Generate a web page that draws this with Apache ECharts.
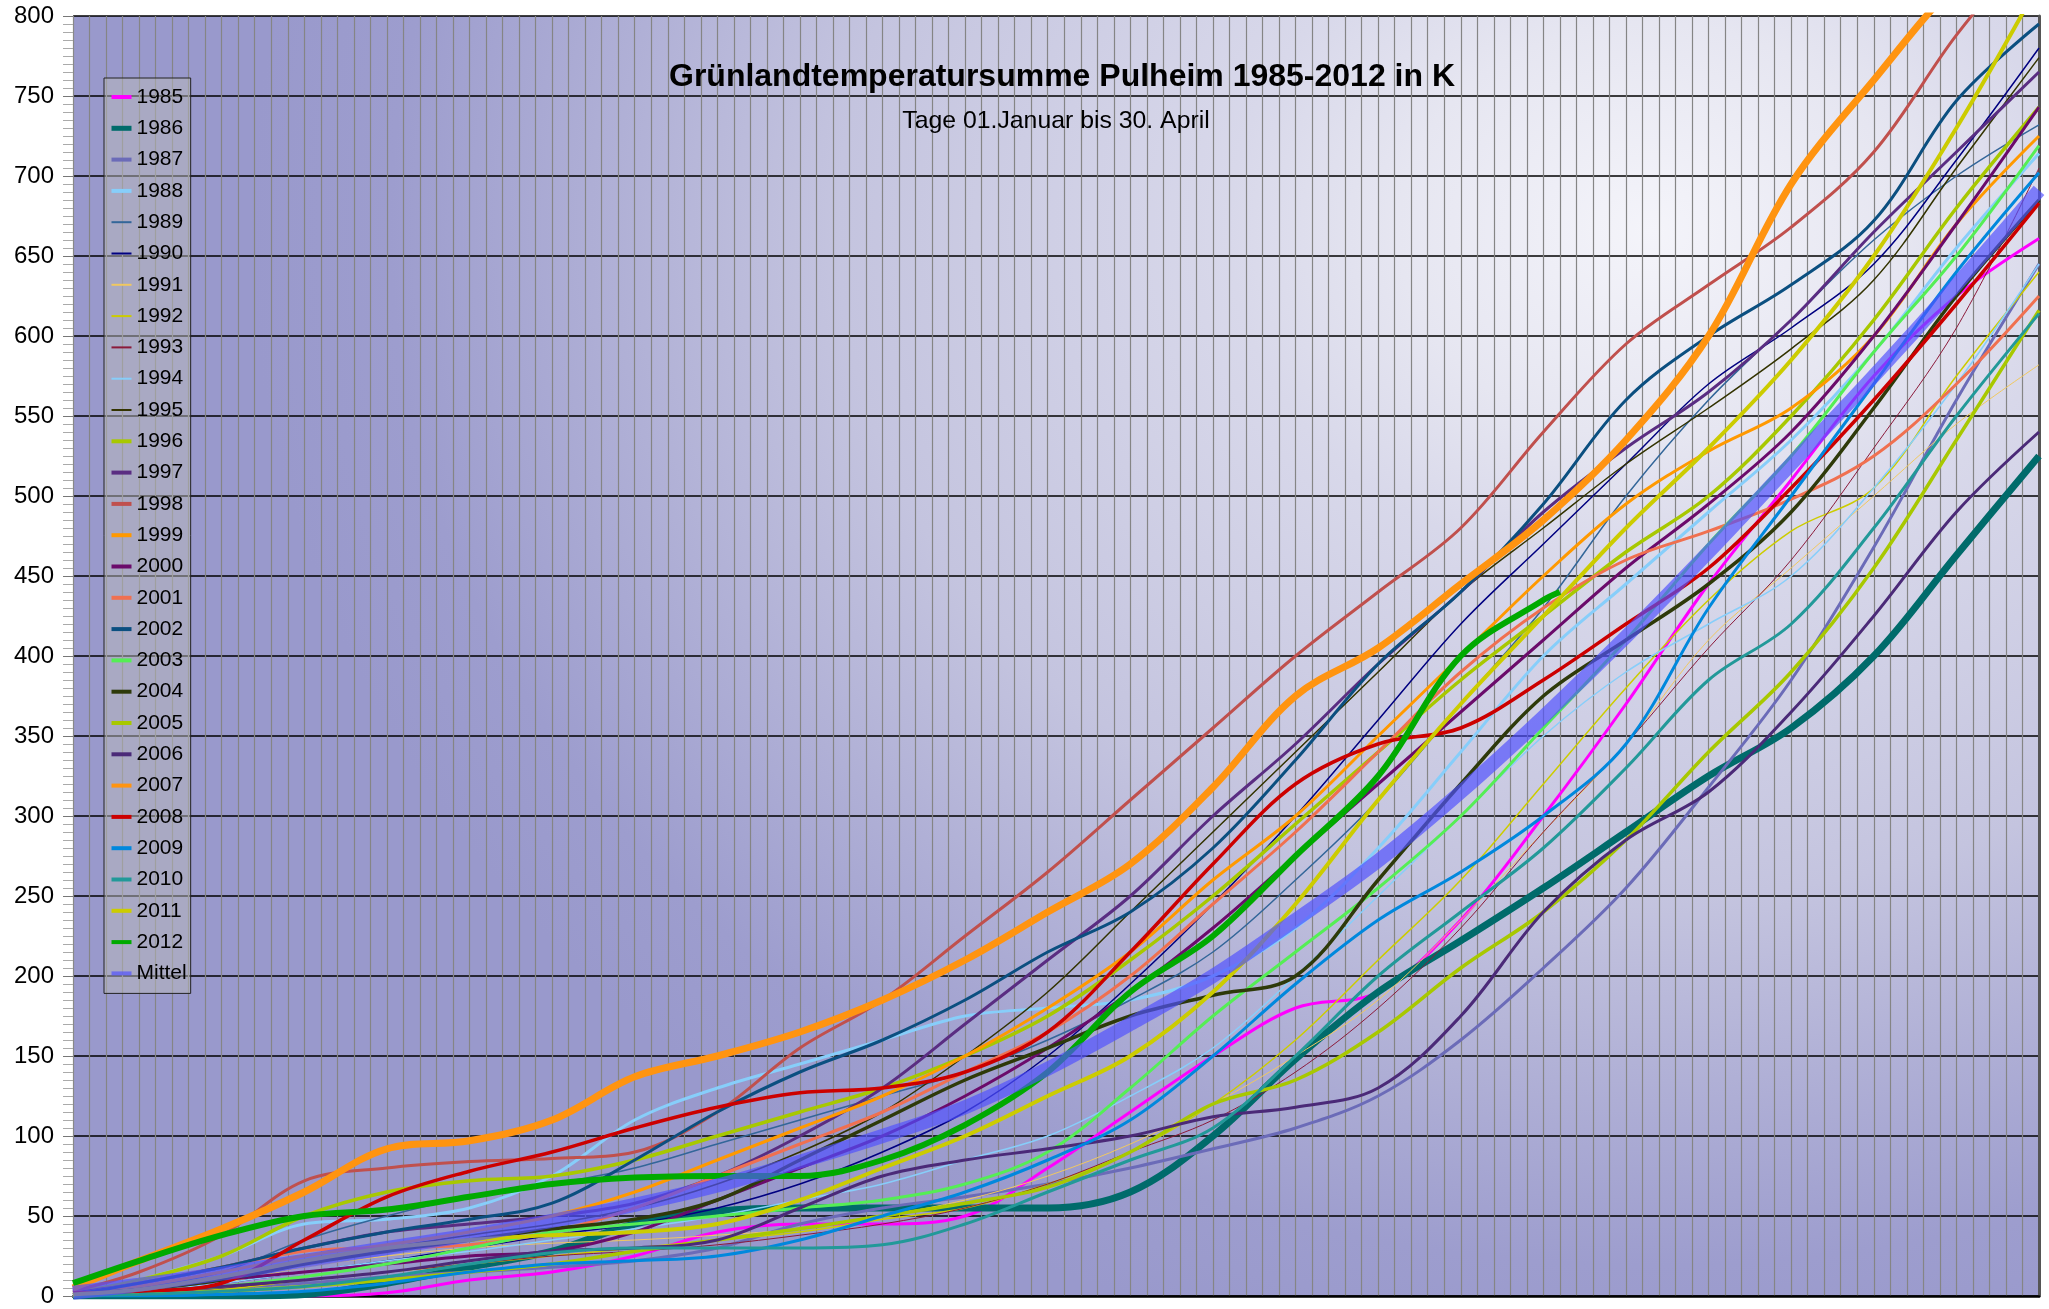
<!DOCTYPE html>
<html>
<head>
<meta charset="utf-8">
<title>Grünlandtemperatursumme Pulheim 1985-2012</title>
<script src="https://cdn.jsdelivr.net/npm/echarts@6/dist/echarts.min.js"></script>
<style>
  html, body { margin: 0; padding: 0; background: #ffffff; }
  #chart { width: 2049px; height: 1309px; }
</style>
</head>
<body>
<div id="chart"></div>
<script>
// Day of year at which each curve is sampled (1 = 01. Januar, 120 = 30. April)
const days = [1, 5, 10, 15, 20, 25, 30, 35, 40, 45, 50, 55, 60, 65, 70, 75, 80, 85, 90, 95, 100, 105, 110, 115, 120];
const days2012 = [1, 5, 10, 15, 20, 25, 30, 35, 40, 45, 50, 55, 60, 65, 70, 75, 80, 85, 90, 91];

// Accumulated grassland temperature sum (K) per year
const y1985 = [0, 0, 0, 0, 2, 10, 15, 25, 40, 45, 45, 50, 80, 115, 150, 180, 190, 235, 300, 370, 445, 510, 575, 625, 661];
const y1986 = [0, 0, 0, 1, 8, 18, 28, 45, 53, 55, 55, 55, 55, 65, 100, 148, 190, 222, 255, 290, 325, 355, 400, 463, 525];
const y1987 = [0, 2, 5, 8, 12, 15, 18, 22, 30, 45, 55, 62, 70, 80, 92, 105, 125, 160, 205, 255, 318, 385, 468, 560, 645];
const y1988 = [0, 10, 25, 45, 48, 55, 75, 110, 130, 145, 160, 175, 180, 185, 200, 230, 280, 340, 400, 445, 490, 535, 590, 655, 714];
const y1989 = [1, 5, 15, 35, 50, 62, 70, 80, 95, 110, 125, 140, 160, 185, 215, 260, 310, 370, 430, 500, 560, 610, 660, 700, 732];
const y1990 = [0, 3, 8, 15, 22, 30, 38, 45, 55, 70, 90, 115, 150, 195, 245, 300, 360, 420, 470, 520, 570, 605, 645, 710, 780];
const y1991 = [0, 2, 8, 18, 25, 30, 33, 35, 38, 42, 50, 60, 75, 95, 120, 150, 185, 235, 290, 345, 410, 455, 500, 545, 582];
const y1992 = [0, 1, 4, 10, 15, 20, 25, 30, 35, 40, 48, 55, 70, 90, 120, 160, 210, 260, 320, 380, 435, 478, 505, 575, 640];
const y1993 = [0, 2, 5, 10, 15, 20, 25, 28, 32, 38, 45, 55, 70, 90, 110, 140, 180, 230, 290, 345, 405, 460, 530, 605, 705];
const y1994 = [0, 3, 8, 15, 22, 28, 35, 42, 50, 60, 70, 85, 100, 125, 155, 200, 250, 300, 350, 390, 420, 450, 505, 570, 645];
const y1995 = [1, 4, 10, 20, 30, 38, 45, 55, 70, 90, 115, 150, 190, 240, 290, 340, 390, 440, 480, 520, 555, 592, 635, 705, 774];
const y1996 = [2, 10, 25, 50, 65, 72, 75, 85, 100, 115, 130, 150, 175, 210, 250, 295, 340, 385, 425, 465, 500, 550, 610, 680, 743];
const y1997 = [2, 8, 18, 30, 40, 45, 50, 58, 75, 100, 130, 170, 210, 250, 300, 345, 395, 440, 490, 530, 565, 610, 665, 715, 765];
const y1998 = [3, 15, 38, 72, 80, 84, 86, 90, 115, 155, 185, 225, 265, 310, 355, 400, 440, 480, 540, 595, 632, 668, 715, 788, 850];
const y1999 = [1, 6, 15, 25, 32, 40, 50, 65, 85, 105, 125, 150, 180, 215, 260, 300, 350, 400, 450, 495, 528, 555, 600, 670, 725];
const y2000 = [1, 4, 10, 15, 20, 25, 28, 40, 60, 80, 100, 125, 155, 190, 230, 275, 320, 365, 410, 455, 495, 540, 600, 670, 743];
const y2001 = [1, 8, 18, 28, 30, 32, 40, 55, 75, 95, 115, 140, 165, 200, 245, 290, 340, 390, 430, 460, 478, 498, 525, 570, 625];
const y2002 = [1, 8, 18, 30, 40, 48, 58, 85, 115, 140, 160, 185, 215, 240, 280, 335, 395, 440, 495, 560, 600, 632, 672, 747, 795];
const y2003 = [1, 3, 6, 12, 20, 30, 40, 45, 50, 55, 60, 70, 90, 130, 175, 215, 255, 300, 355, 410, 470, 525, 590, 650, 719];
const y2004 = [1, 4, 10, 20, 28, 35, 42, 48, 60, 85, 110, 135, 155, 175, 188, 200, 260, 320, 375, 410, 445, 490, 555, 625, 685];
const y2005 = [0, 1, 3, 6, 10, 15, 20, 28, 35, 42, 50, 58, 68, 90, 120, 135, 165, 205, 240, 285, 340, 390, 455, 535, 616];
const y2006 = [2, 3, 6, 10, 15, 22, 28, 30, 35, 55, 75, 85, 92, 100, 112, 118, 130, 175, 240, 285, 315, 365, 425, 490, 540];
const y2007 = [5, 22, 42, 65, 92, 97, 110, 137, 150, 165, 185, 210, 240, 270, 318, 375, 405, 445, 485, 535, 600, 695, 760, 820, 860];
const y2008 = [2, 3, 8, 35, 62, 78, 90, 105, 118, 127, 130, 140, 165, 215, 270, 320, 345, 355, 385, 420, 455, 505, 560, 620, 683];
const y2009 = [0, 0, 1, 3, 8, 15, 20, 22, 25, 35, 50, 65, 85, 110, 150, 195, 235, 265, 300, 345, 430, 500, 570, 640, 702];
const y2010 = [0, 1, 3, 6, 12, 20, 27, 30, 30, 30, 32, 45, 65, 85, 105, 150, 200, 240, 280, 330, 385, 420, 480, 550, 614];
const y2011 = [1, 4, 12, 22, 30, 35, 38, 40, 45, 60, 80, 100, 125, 150, 190, 245, 310, 370, 425, 480, 530, 585, 650, 730, 820];
const y2012 = [8, 22, 38, 50, 54, 62, 70, 74, 75, 75, 85, 107, 140, 190, 225, 275, 325, 400, 435, 440];
const yMittel = [2, 7, 14, 22, 30, 38, 47, 57, 69, 84, 100, 118, 142, 170, 200, 235, 272, 315, 362, 412, 465, 520, 575, 632, 691];

const yTicks = [0, 50, 100, 150, 200, 250, 300, 350, 400, 450, 500, 550, 600, 650, 700, 750, 800];

// name, values, day list, colour, line width, legend icon width
const seriesDefs = [
  ['1985', y1985, days, '#ff00ff', 3, 4],
  ['1986', y1986, days, '#006b6b', 7, 5],
  ['1987', y1987, days, '#6b6bb8', 3, 4],
  ['1988', y1988, days, '#87cefa', 3, 4],
  ['1989', y1989, days, '#336699', 1.5, 2],
  ['1990', y1990, days, '#000080', 1.5, 2],
  ['1991', y1991, days, '#f0c860', 1, 2],
  ['1992', y1992, days, '#cccc00', 1.5, 2],
  ['1993', y1993, days, '#8b1a3a', 1, 2],
  ['1994', y1994, days, '#87cefa', 1.5, 2],
  ['1995', y1995, days, '#333300', 1.5, 2],
  ['1996', y1996, days, '#a8c800', 3.5, 4],
  ['1997', y1997, days, '#5a2d82', 3, 4],
  ['1998', y1998, days, '#c0504d', 3, 4],
  ['1999', y1999, days, '#ff9900', 3, 4],
  ['2000', y2000, days, '#6b0b6b', 3, 4],
  ['2001', y2001, days, '#f07050', 3, 4],
  ['2002', y2002, days, '#0b4f80', 3, 4],
  ['2003', y2003, days, '#55ee55', 3, 4],
  ['2004', y2004, days, '#2e3a0a', 3.5, 4],
  ['2005', y2005, days, '#a8c800', 3.5, 4],
  ['2006', y2006, days, '#4b2a78', 3, 4],
  ['2007', y2007, days, '#ff9410', 7, 4],
  ['2008', y2008, days, '#cc0000', 3.5, 4],
  ['2009', y2009, days, '#0088dd', 3, 4],
  ['2010', y2010, days, '#229999', 3, 4],
  ['2011', y2011, days, '#cccc00', 4, 4],
  ['2012', y2012, days2012, '#00aa00', 6, 4],
  ['Mittel', yMittel, days, 'rgba(80,80,255,0.68)', 14, 4]
];

const FONT = '"Liberation Sans", Arial, sans-serif';

// plot rectangle in pixels
const plot = { left: 73, top: 16, right: 2039, bottom: 1296 };

const chart = echarts.init(document.getElementById('chart'), null, { renderer: 'canvas' });

// elliptical light spot in the upper right of the plot area
const spot = { cx: 1650, cy: 230, rx: 1400, ry: 1150 };
const sx = spot.rx / spot.ry;

const option = {
  animation: false,
  backgroundColor: '#ffffff',
  title: [
    {
      text: 'Grünlandtemperatursumme Pulheim 1985-2012 in K',
      left: 1057, top: 56, textAlign: 'center',
      textStyle: { fontFamily: FONT, fontSize: 32, fontWeight: 'bold', color: '#000' }
    },
    {
      text: 'Tage 01.Januar bis 30. April',
      left: 1051, top: 104, textAlign: 'center',
      textStyle: { fontFamily: FONT, fontSize: 24.8, fontWeight: 'normal', color: '#000' }
    }
  ],
  graphic: [
    {
      type: 'rect',
      z: -10,
      silent: true,
      x: spot.cx, y: spot.cy,
      scaleX: sx, scaleY: 1,
      shape: {
        x: (plot.left - spot.cx) / sx,
        y: plot.top - spot.cy,
        width: (plot.right - plot.left) / sx,
        height: plot.bottom - plot.top
      },
      style: {
        fill: {
          type: 'radial', x: 0, y: 0, r: spot.ry, global: true,
          colorStops: [
            { offset: 0, color: '#f4f4fa' },
            { offset: 0.18, color: '#e6e6f1' },
            { offset: 0.3, color: '#d8d8ea' },
            { offset: 0.58, color: '#c4c4df' },
            { offset: 0.74, color: '#b0b0d6' },
            { offset: 0.9, color: '#9d9dce' },
            { offset: 1, color: '#9999cc' }
          ]
        }
      }
    }
  ],
  legend: {
    orient: 'vertical',
    left: 104, top: 78,
    padding: [8, 4, 9, 5],
    itemGap: 9.3,
    itemWidth: 20, itemHeight: 14,
    backgroundColor: 'rgba(185,185,185,0.5)',
    borderColor: '#222', borderWidth: 1,
    // only the line sample is shown, no point marker
    itemStyle: { color: 'rgba(0,0,0,0)', borderWidth: 0, opacity: 0 },
    textStyle: { fontFamily: FONT, fontSize: 21, color: '#000', lineHeight: 22 },
    data: seriesDefs.map(d => ({ name: d[0], lineStyle: { width: d[5] } }))
  },
  grid: {
    left: plot.left, top: plot.top,
    right: 2049 - plot.right, bottom: 1309 - plot.bottom,
    containLabel: false
  },
  xAxis: {
    type: 'value', min: 1, max: 120, interval: 1,
    axisLabel: { show: false },
    axisTick: { show: false },
    axisLine: { show: true, onZero: false, lineStyle: { color: '#000', width: 2.5 } },
    splitLine: { show: true, lineStyle: { color: '#858585', width: 1.2 } }
  },
  yAxis: [
    {
      type: 'value', min: 0, max: 800, interval: 50,
      axisLabel: {
        fontFamily: FONT, fontSize: 24, color: '#000', margin: 19,
        formatter: v => (yTicks.indexOf(v) >= 0 ? String(v) : '')
      },
      axisTick: { show: true, length: 10, lineStyle: { color: '#777', width: 1 } },
      minorTick: { show: true, splitNumber: 10, length: 10, lineStyle: { color: '#aaa', width: 1 } },
      axisLine: { show: true, lineStyle: { color: '#888', width: 1 } },
      splitLine: { show: true, lineStyle: { color: '#000', width: 1.6 } }
    },
    {
      type: 'value', min: 0, max: 800, interval: 50, position: 'right',
      axisLabel: { show: false }, axisTick: { show: false },
      axisLine: { show: true, lineStyle: { color: '#555', width: 3 } },
      splitLine: { show: false }
    }
  ],
  series: seriesDefs.map(d => ({
    name: d[0],
    type: 'line',
    data: d[2].map((day, i) => [day, d[1][i]]),
    smooth: 0.35,
    showSymbol: false,
    symbol: 'none',
    clip: true,
    lineStyle: { color: d[3], width: d[4] },
    itemStyle: { color: d[3] },
    emphasis: { disabled: true }
  }))
};

chart.setOption(option);
</script>
</body>
</html>
